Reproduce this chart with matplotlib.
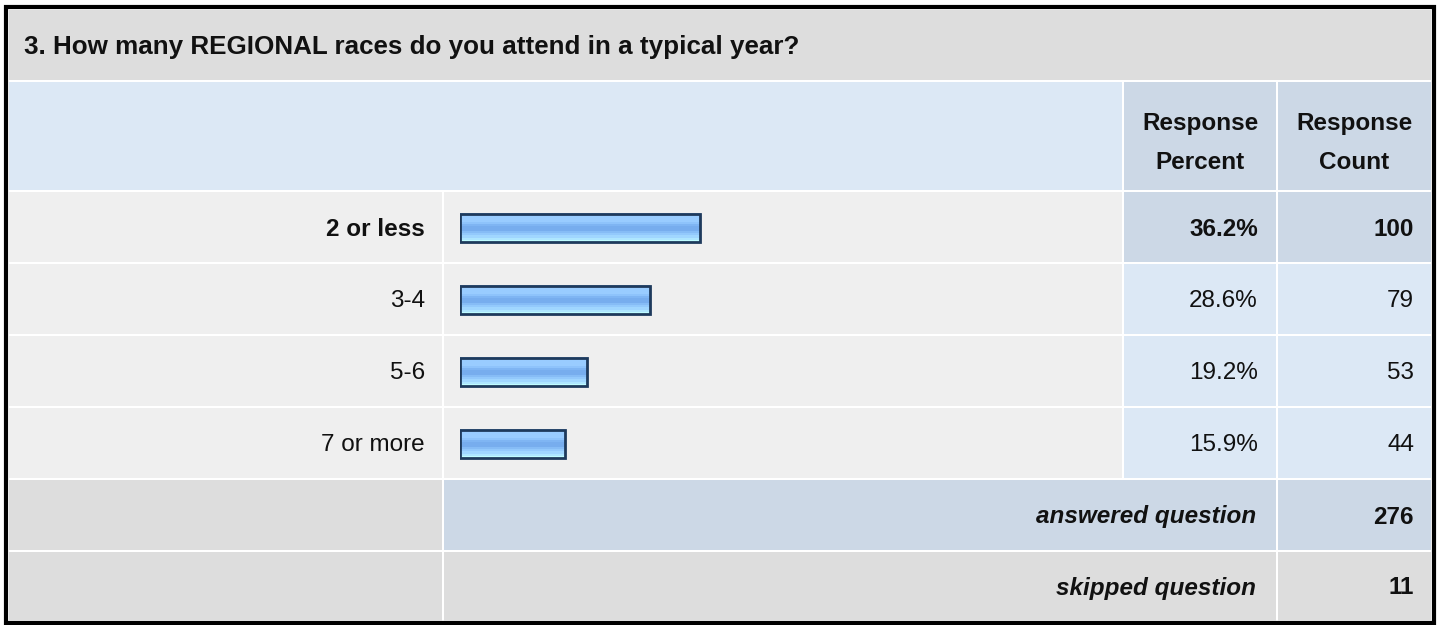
import numpy as np
import matplotlib
matplotlib.use('Agg')
import matplotlib.pyplot as plt
from matplotlib.patches import Rectangle
from matplotlib.colors import to_rgb

plt.rcParams['font.family'] = ['Liberation Sans', 'DejaVu Sans']

# data
question = '3. How many REGIONAL races do you attend in a typical year?'
categories = ['2 or less', '3-4', '5-6', '7 or more']
percents = [36.2, 28.6, 19.2, 15.9]
counts = [100, 79, 53, 44]
answered = 276
skipped = 11

# colours
grey = '#dddddd'
light = '#efefef'
blue_lt = '#dce8f5'
blue_dk = '#ccd8e6'
ink = '#111111'
fs = 17.5

W, H = 1440, 625
fig = plt.figure(figsize=(W / 100, H / 100), dpi=100)
fig.patch.set_facecolor('white')
ax = fig.add_axes([0, 0, 1, 1])
ax.set_xlim(0, W)
ax.set_ylim(H, 0)
ax.axis('off')

def cell(x0, x1, y0, y1, color):
    ax.add_patch(Rectangle((x0, y0), x1 - x0, y1 - y0, facecolor=color,
                           edgecolor='none'))

# column edges (left, right)
c_lab = (9, 442)
c_bar = (444, 1122)
c_pct = (1124, 1276)
c_cnt = (1278, 1431)

# outer frame
ax.add_patch(Rectangle((6, 6.5), 1428, 616.5, facecolor='none',
                       edgecolor='black', linewidth=3))

# title row
cell(9, 1431, 10, 80, grey)
ax.text(24, 47, question, fontsize=18.7, fontweight='bold',
        va='center', ha='left', color=ink)

# header row
cell(9, 1122, 82, 190, blue_lt)
cell(*c_pct, 82, 190, blue_dk)
cell(*c_cnt, 82, 190, blue_dk)
ax.text(sum(c_pct) / 2, 143, 'Response\nPercent', fontsize=fs,
        fontweight='bold', ha='center', va='center', linespacing=1.85,
        color=ink)
ax.text(sum(c_cnt) / 2, 143, 'Response\nCount', fontsize=fs,
        fontweight='bold', ha='center', va='center', linespacing=1.85,
        color=ink)

# answer rows
top0 = 192
pitch = 72
best = int(np.argmax(counts))
for i, (cat, p, n) in enumerate(zip(categories, percents, counts)):
    y0 = top0 + i * pitch
    y1 = y0 + pitch - 2
    yc = (y0 + y1) / 2
    hi = i == best
    cell(*c_lab, y0, y1, light)
    cell(*c_bar, y0, y1, light)
    cell(*c_pct, y0, y1, blue_dk if hi else blue_lt)
    cell(*c_cnt, y0, y1, blue_dk if hi else blue_lt)
    fw = 'bold' if hi else 'normal'
    ax.text(425, yc + 2, cat, fontsize=fs, fontweight=fw, ha='right',
            va='center', color=ink)
    ax.text(1258, yc + 2, f'{p:.1f}%', fontsize=fs, fontweight=fw,
            ha='right', va='center', color=ink)
    ax.text(1414, yc + 2, str(n), fontsize=fs, fontweight=fw,
            ha='right', va='center', color=ink)

# summary rows
y0 = top0 + 4 * pitch
cell(*c_lab, y0, y0 + 70, grey)
cell(c_bar[0], c_pct[1], y0, y0 + 70, blue_dk)
cell(*c_cnt, y0, y0 + 70, blue_dk)
ax.text(1256, y0 + 37, 'answered question', fontsize=fs,
        fontweight='bold', style='italic', ha='right', va='center',
        color=ink)
ax.text(1414, y0 + 37, str(answered), fontsize=fs, fontweight='bold',
        ha='right', va='center', color=ink)
y0 += pitch
cell(*c_lab, y0, 621, grey)
cell(c_bar[0], c_pct[1], y0, 621, grey)
cell(*c_cnt, y0, 621, grey)
ax.text(1256, y0 + 36, 'skipped question', fontsize=fs,
        fontweight='bold', style='italic', ha='right', va='center',
        color=ink)
ax.text(1414, y0 + 36, str(skipped), fontsize=fs, fontweight='bold',
        ha='right', va='center', color=ink)

# bar axes: 460..1123 px horizontally, rows 192..480 vertically
bx = fig.add_axes([460 / W, 1 - 480 / H, 663 / W, 288 / H])
bx.axis('off')
bx.patch.set_alpha(0)

stripes = ['#99ccff', '#99ccff', '#99ccff', '#99ccff', '#8ec3fb',
           '#7fb5f3', '#77adee', '#77adee', '#86bcf6', '#93c9fc',
           '#a0d6ff', '#aee6ff', '#bffcff']
grad = np.array([to_rgb(c) for c in stripes])[:, None, :]
bh = 0.40
for i, p in enumerate(percents):
    bx.imshow(grad, extent=(0, p, i + bh / 2, i - bh / 2), aspect='auto',
              interpolation='nearest', zorder=1)
bx.barh(range(len(categories)), percents, height=bh,
        facecolor='none', edgecolor='#1e3a5c', linewidth=2, zorder=2)
bx.set_xlim(0, 100)
bx.set_ylim(len(categories) - 0.5, -0.5)

fig.savefig('out.png', dpi=100)
